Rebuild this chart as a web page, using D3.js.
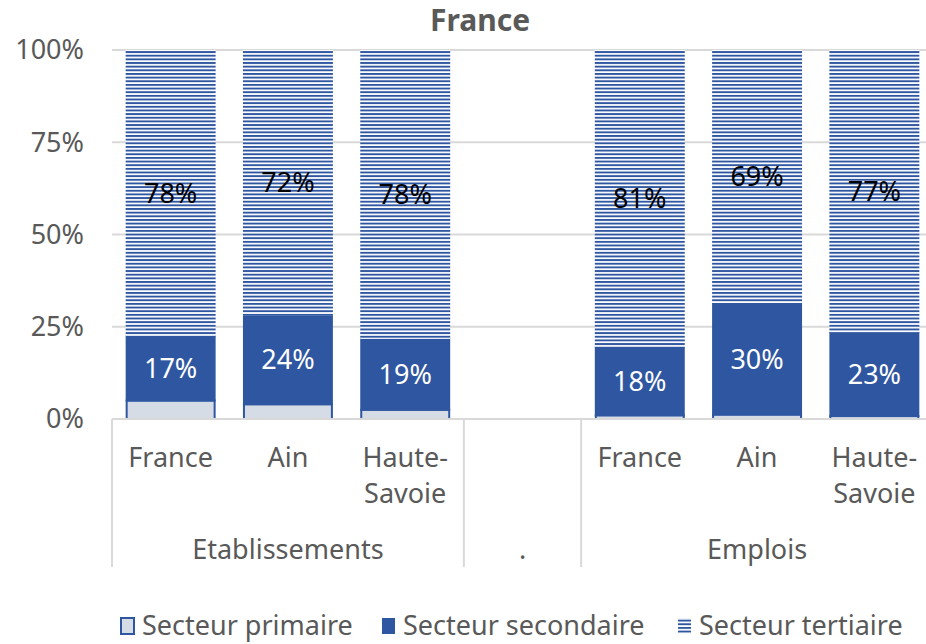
<!DOCTYPE html>
<html>
<head>
<meta charset="utf-8">
<script src="https://cdn.jsdelivr.net/npm/d3@7"></script>
<style>
  body { margin: 0; background: #fff; }
  text { font-family: "Noto Sans", "Liberation Sans", Arial, sans-serif; }
</style>
</head>
<body>
<svg width="926" height="644"></svg>
<script>
// slots on the category axis (the middle one is the empty "." group)
var slots = ["etab-fr", "etab-ain", "etab-hs", "blank", "emp-fr", "emp-ain", "emp-hs"];
var slotLabels = [["France"], ["Ain"], ["Haute-", "Savoie"], [], ["France"], ["Ain"], ["Haute-", "Savoie"]];
var groups = ["Etablissements", ".", "Emplois"];
var groupSlots = [[0, 2], [3, 3], [4, 6]];

var primaire   = [0.050, 0.040, 0.025, null, 0.010, 0.012, 0.008];
var secondaire = [0.174, 0.240, 0.192, null, 0.184, 0.300, 0.225];
var tertiaire  = [0.776, 0.720, 0.783, null, 0.806, 0.688, 0.767];

var series = ["Secteur primaire", "Secteur secondaire", "Secteur tertiaire"];
var yTicks = [0, 0.25, 0.5, 0.75, 1];

var svg = d3.select("svg"),
    blue = "#2F56A0",
    textColor = "#595959",
    gridColor = "#D9D9D9";

var margin = {left: 112, right: -7};
var x = d3.scaleBand()
    .domain(slots)
    .range([margin.left, 926 - margin.right])
    .paddingInner(0.233)
    .paddingOuter(0.1165);
var y = d3.scaleLinear().domain([0, 1]).range([419, 50]);

var defs = svg.append("defs");
var pat = defs.append("pattern")
    .attr("id", "stripes")
    .attr("patternUnits", "userSpaceOnUse")
    .attr("width", 8).attr("height", 3.65);
pat.append("rect").attr("width", 8).attr("height", 3.65).attr("fill", "#fff");
pat.append("rect").attr("width", 8).attr("height", 1.9).attr("fill", blue);

// title
svg.append("text")
    .attr("x", 480).attr("y", 31)
    .attr("text-anchor", "middle")
    .attr("font-size", 30).attr("font-weight", "bold")
    .attr("fill", textColor)
    .text("France");

// gridlines
svg.append("g").selectAll("line")
    .data(yTicks.slice(1))
  .enter().append("line")
    .attr("x1", margin.left).attr("x2", 926)
    .attr("y1", function(d) { return y(d); })
    .attr("y2", function(d) { return y(d); })
    .attr("stroke", gridColor).attr("stroke-width", 2);

// y labels
svg.append("g").selectAll("text")
    .data(yTicks)
  .enter().append("text")
    .attr("x", 84)
    .attr("y", function(d) { return y(d); })
    .attr("dy", "0.35em")
    .attr("text-anchor", "end")
    .attr("font-size", 27)
    .attr("fill", textColor)
    .text(d3.format(".0%"));

// stacked bars
var table = slots.map(function(s, i) {
  return {slot: s, p: primaire[i] || 0, s: secondaire[i] || 0, t: tertiaire[i] || 0, blank: primaire[i] == null};
});
var stack = d3.stack().keys(["p", "s", "t"])(table);
var fills = ["#D6DCE5", blue, "url(#stripes)"];

stack.forEach(function(layer, k) {
  svg.append("g").selectAll("rect")
      .data(layer.filter(function(d) { return !d.data.blank; }))
    .enter().append("rect")
      .attr("x", function(d) { return x(d.data.slot) + (k < 2 ? 1 : 0); })
      .attr("width", x.bandwidth() - (k < 2 ? 2 : 0))
      .attr("y", function(d) { return y(d[1]); })
      .attr("height", function(d) { return y(d[0]) - y(d[1]); })
      .attr("fill", fills[k])
      .attr("stroke", k < 2 ? blue : "none")
      .attr("stroke-width", k < 2 ? 2 : 0);
});

// data labels for secondaire (white) and tertiaire (black)
[1, 2].forEach(function(k) {
  svg.append("g").selectAll("text")
      .data(stack[k].filter(function(d) { return !d.data.blank; }))
    .enter().append("text")
      .attr("x", function(d) { return x(d.data.slot) + x.bandwidth() / 2; })
      .attr("y", function(d) { return y((d[0] + d[1]) / 2); })
      .attr("dy", "0.35em")
      .attr("text-anchor", "middle")
      .attr("font-size", 27)
      .attr("fill", k == 1 ? "#fff" : "#000")
      .text(function(d) { return d3.format(".0%")(d[1] - d[0]); });
});

// category axis baseline
svg.append("line")
    .attr("x1", margin.left).attr("x2", 926)
    .attr("y1", y(0)).attr("y2", y(0))
    .attr("stroke", gridColor).attr("stroke-width", 2);

// group separators
var sepX = [margin.left];
groupSlots.forEach(function(g) {
  sepX.push(x(slots[g[1]]) + x.bandwidth() + x.step() * x.paddingInner() / 2);
});
svg.append("g").selectAll("line")
    .data(sepX)
  .enter().append("line")
    .attr("x1", function(d) { return d; }).attr("x2", function(d) { return d; })
    .attr("y1", y(0)).attr("y2", 567)
    .attr("stroke", gridColor).attr("stroke-width", 2);

// category labels
var catG = svg.append("g").selectAll("text")
    .data(slots)
  .enter().append("text")
    .attr("x", function(d) { return x(d) + x.bandwidth() / 2; })
    .attr("y", 467)
    .attr("text-anchor", "middle")
    .attr("font-size", 27)
    .attr("fill", textColor);
catG.selectAll("tspan")
    .data(function(d, i) { return slotLabels[i]; })
  .enter().append("tspan")
    .attr("x", function() { return d3.select(this.parentNode).attr("x"); })
    .attr("dy", function(d, i) { return i ? 36 : 0; })
    .text(function(d) { return d; });

// group labels
svg.append("g").selectAll("text")
    .data(groups)
  .enter().append("text")
    .attr("x", function(d, i) {
      var g = groupSlots[i];
      return (x(slots[g[0]]) + x(slots[g[1]]) + x.bandwidth()) / 2;
    })
    .attr("y", 559)
    .attr("text-anchor", "middle")
    .attr("font-size", 27)
    .attr("fill", textColor)
    .text(function(d) { return d; });

// legend
var legX = [120, 381, 677];
var leg = svg.append("g").selectAll("g")
    .data(series)
  .enter().append("g")
    .attr("transform", function(d, i) { return "translate(" + legX[i] + ",616)"; });
leg.append("rect")
    .attr("x", 1).attr("y", 2)
    .attr("width", 13).attr("height", 16)
    .attr("fill", function(d, i) { return fills[i]; })
    .attr("stroke", function(d, i) { return i == 0 ? blue : "none"; })
    .attr("stroke-width", 2);
leg.append("text")
    .attr("x", 22).attr("y", 10)
    .attr("dy", "0.35em")
    .attr("font-size", 27)
    .attr("fill", textColor)
    .text(function(d) { return d; });
</script>
</body>
</html>
